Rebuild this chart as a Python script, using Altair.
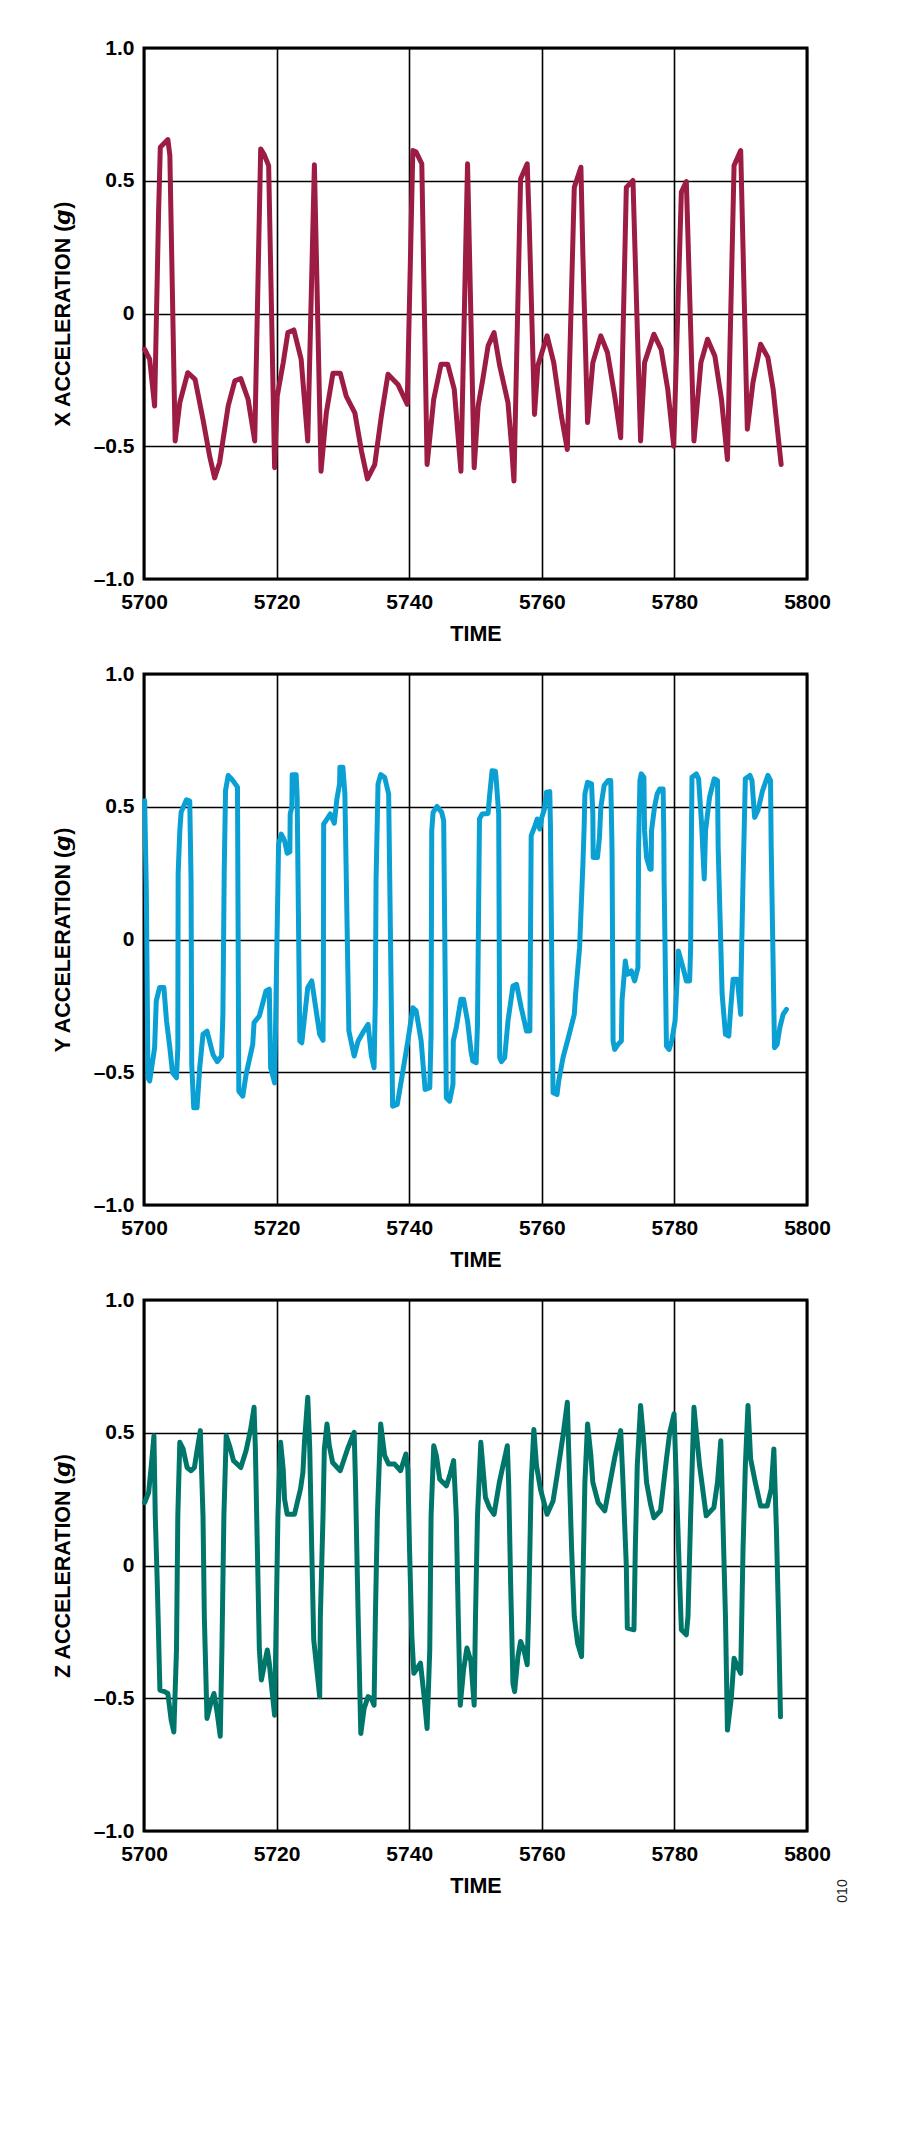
import altair as alt
import pandas as pd

# ---------------- data ----------------
x_time = [5700.1, 5700.85, 5701.6, 5702.2, 5702.46, 5703.6, 5703.9, 5704.7, 5705.4, 5706.6,
          5707.7, 5708.9, 5709.9, 5710.65, 5711.4, 5712.7, 5713.7, 5714.6, 5715.7, 5716.7,
          5717.6, 5718.1, 5718.8, 5719.7, 5720.1, 5721.0, 5721.7, 5722.6, 5723.7, 5724.7,
          5725.7, 5726.7, 5727.5, 5728.5, 5729.6, 5730.5, 5731.8, 5732.8, 5733.7, 5734.8,
          5735.8, 5736.8, 5738.3, 5739.7, 5740.55, 5741.05, 5741.9, 5742.7, 5743.7, 5744.8,
          5745.8, 5746.8, 5747.8, 5748.8, 5749.8, 5750.4, 5751.1, 5751.9, 5752.8, 5753.65,
          5754.9, 5755.4, 5755.8, 5756.8, 5757.8, 5758.1, 5758.9, 5759.4, 5760.8, 5761.8,
          5762.95, 5763.85, 5764.9, 5765.9, 5766.2, 5766.9, 5767.7, 5768.9, 5769.9, 5771.0,
          5771.9, 5772.75, 5773.75, 5774.9, 5775.5, 5776.9, 5778.0, 5779.0, 5779.9, 5781.05,
          5781.8, 5782.95, 5784.0, 5785.0, 5786.1, 5787.1, 5788.0, 5789.0, 5790.0, 5791.0,
          5791.85, 5793.0, 5794.1, 5794.9, 5796.1]
x_acc = [-0.135, -0.172, -0.348, 0.381, 0.626, 0.655, 0.595, -0.48, -0.336, -0.223,
         -0.248, -0.399, -0.537, -0.619, -0.562, -0.348, -0.254, -0.245, -0.323, -0.48,
         0.62, 0.60, 0.557, -0.581, -0.311, -0.185, -0.072, -0.062, -0.172, -0.48,
         0.56, -0.594, -0.374, -0.225, -0.225, -0.311, -0.374, -0.518, -0.623, -0.569,
         -0.386, -0.229, -0.267, -0.342, 0.614, 0.608, 0.564, -0.569, -0.323, -0.191,
         -0.191, -0.286, -0.594, 0.564, -0.581, -0.348, -0.248, -0.122, -0.072, -0.197,
         -0.336, -0.487, -0.631, 0.507, 0.564, 0.343, -0.38, -0.197, -0.084, -0.185,
         -0.386, -0.512, 0.475, 0.551, 0.217, -0.411, -0.185, -0.084, -0.147, -0.311,
         -0.468, 0.475, 0.501, -0.48, -0.185, -0.078, -0.135, -0.286, -0.50, 0.457,
         0.497, -0.48, -0.185, -0.097, -0.16, -0.323, -0.55, 0.557, 0.614, -0.436,
         -0.26, -0.116, -0.166, -0.286, -0.569]

y_time = [5700.1, 5700.35, 5700.6, 5700.85, 5701.6, 5701.85, 5702.35, 5703.0, 5703.4, 5703.9,
          5704.3, 5704.9, 5705.1, 5705.15, 5705.4, 5705.6, 5706.4, 5706.9, 5707.1, 5707.2,
          5707.5, 5708.0, 5708.4, 5708.9, 5709.5, 5710.4, 5711.05, 5711.7, 5711.9, 5712.1,
          5712.3, 5712.7, 5713.4, 5714.1, 5714.3, 5714.9, 5715.4, 5716.4, 5716.6, 5717.4,
          5718.4, 5718.9, 5719.1, 5719.7, 5720.3, 5720.7, 5721.2, 5721.6, 5722.0, 5722.05,
          5722.3, 5722.35, 5722.95, 5723.1, 5723.5, 5723.8, 5724.7, 5725.3, 5725.9, 5726.5,
          5727.0, 5727.05, 5727.1, 5727.5, 5728.1, 5728.7, 5729.1, 5729.5, 5729.55, 5730.0,
          5730.3, 5730.9, 5731.7, 5732.3, 5733.0, 5733.8, 5734.3, 5734.7, 5734.9, 5735.0,
          5735.3, 5735.7, 5736.3, 5736.9, 5737.5, 5738.2, 5738.8, 5739.8, 5740.55, 5741.05,
          5741.8, 5742.4, 5743.1, 5743.3, 5743.4, 5743.6, 5744.2, 5744.9, 5745.2, 5745.6,
          5746.1, 5746.6, 5746.65, 5747.1, 5747.8, 5748.2, 5748.8, 5749.35, 5749.6, 5750.1,
          5750.3, 5750.6, 5751.0, 5751.9, 5752.1, 5752.5, 5753.0, 5753.1, 5753.5, 5753.65,
          5753.9, 5754.4, 5754.9, 5755.65, 5756.2, 5756.9, 5757.7, 5758.2, 5758.25, 5758.4,
          5758.9, 5759.3, 5759.7, 5760.0, 5760.4, 5760.7, 5761.2, 5761.3, 5761.7, 5762.3,
          5762.55, 5763.2, 5764.0, 5764.9, 5765.1, 5765.7, 5766.2, 5766.4, 5766.5, 5766.9,
          5767.5, 5767.7, 5767.75, 5768.4, 5768.7, 5768.9, 5769.4, 5770.0, 5770.4, 5770.55,
          5770.6, 5770.75, 5771.0, 5771.5, 5772.0, 5772.1, 5772.6, 5772.9, 5773.5, 5774.0,
          5774.5, 5774.6, 5774.8, 5775.0, 5775.4, 5775.5, 5775.8, 5776.3, 5776.5, 5776.55,
          5777.0, 5777.4, 5777.8, 5778.3, 5778.4, 5778.45, 5778.8, 5779.2, 5779.6, 5780.1,
          5780.4, 5780.6, 5781.3, 5781.8, 5782.3, 5782.45, 5782.55, 5782.65, 5783.3, 5783.65,
          5784.1, 5784.5, 5784.7, 5785.3, 5786.0, 5786.5, 5786.6, 5787.2, 5787.7, 5788.2,
          5788.5, 5788.85, 5789.5, 5790.0, 5790.05, 5790.35, 5790.7, 5791.4, 5791.7, 5792.1,
          5792.6, 5793.3, 5794.1, 5794.5, 5794.6, 5795.1, 5795.5, 5795.9, 5796.4, 5796.9]
y_acc = [0.523, 0.184, -0.521, -0.533, -0.408, -0.231, -0.181, -0.181, -0.307, -0.408,
         -0.502, -0.521, -0.408, 0.247, 0.41, 0.479, 0.526, 0.521, 0.221, -0.47,
         -0.634, -0.634, -0.483, -0.357, -0.345, -0.433, -0.46, -0.439, -0.282, 0.259,
         0.561, 0.618, 0.599, 0.574, -0.571, -0.59, -0.508, -0.395, -0.313, -0.288,
         -0.194, -0.187, -0.483, -0.54, 0.36, 0.397, 0.372, 0.325, 0.33, 0.473,
         0.498, 0.621, 0.621, 0.536, -0.382, -0.389, -0.181, -0.156, -0.257, -0.357,
         -0.38, -0.231, 0.435, 0.45, 0.473, 0.438, 0.53, 0.586, 0.649, 0.649,
         0.548, -0.345, -0.439, -0.382, -0.351, -0.32, -0.439, -0.483, -0.219, 0.221,
         0.586, 0.621, 0.611, 0.548, -0.628, -0.621, -0.533, -0.382, -0.257, -0.269,
         -0.382, -0.565, -0.558, -0.357, 0.41, 0.479, 0.501, 0.479, 0.448, -0.596,
         -0.609, -0.546, -0.382, -0.332, -0.225, -0.225, -0.307, -0.426, -0.458, -0.464,
         -0.32, 0.454, 0.473, 0.475, 0.536, 0.636, 0.634, 0.611, 0.473, -0.445,
         -0.46, -0.445, -0.307, -0.175, -0.169, -0.257, -0.345, -0.345, -0.15, 0.391,
         0.423, 0.454, 0.416, 0.46, 0.491, 0.555, 0.557, 0.435, -0.577, -0.584,
         -0.533, -0.445, -0.37, -0.282, -0.206, -0.03, 0.284, 0.435, 0.548, 0.592,
         0.586, 0.473, 0.309, 0.309, 0.385, 0.498, 0.58, 0.599, 0.599, 0.40,
         0.322, -0.382, -0.414, -0.395, -0.382, -0.231, -0.081, -0.131, -0.118, -0.156,
         -0.106, 0.347, 0.599, 0.624, 0.611, 0.41, 0.309, 0.265, 0.265, 0.41,
         0.498, 0.548, 0.567, 0.567, 0.397, 0.22, -0.401, -0.414, -0.382, -0.307,
         -0.156, -0.043, -0.106, -0.156, -0.156, -0.03, 0.347, 0.611, 0.624, 0.605,
         0.435, 0.228, 0.41, 0.536, 0.605, 0.599, 0.347, -0.206, -0.357, -0.364,
         -0.257, -0.15, -0.15, -0.282, -0.15, 0.221, 0.605, 0.618, 0.599, 0.46,
         0.486, 0.561, 0.618, 0.599, 0.347, -0.408, -0.395, -0.332, -0.282, -0.263]

z_time = [5700.1, 5700.7, 5701.1, 5701.5, 5701.7, 5702.0, 5702.4, 5703.1, 5703.6, 5704.1,
          5704.5, 5704.9, 5705.1, 5705.4, 5705.9, 5706.5, 5707.1, 5707.6, 5708.0, 5708.5,
          5708.9, 5709.1, 5709.5, 5710.05, 5710.55, 5711.05, 5711.5, 5711.75, 5712.05, 5712.4,
          5712.9, 5713.5, 5714.6, 5715.4, 5716.1, 5716.6, 5716.8, 5717.1, 5717.4, 5717.7,
          5718.1, 5718.6, 5718.9, 5719.2, 5719.7, 5720.2, 5720.6, 5721.0, 5721.2, 5721.6,
          5722.7, 5723.6, 5723.97, 5724.2, 5724.7, 5725.0, 5725.3, 5725.6, 5726.5, 5726.6,
          5727.0, 5727.2, 5727.6, 5727.95, 5728.45, 5729.6, 5730.7, 5731.7, 5731.9, 5732.3,
          5732.7, 5733.2, 5733.8, 5734.3, 5734.7, 5734.9, 5735.2, 5735.7, 5736.3, 5736.9,
          5737.8, 5738.7, 5739.5, 5739.8, 5740.05, 5740.4, 5740.7, 5741.7, 5742.2, 5742.7,
          5743.1, 5743.3, 5743.7, 5744.1, 5744.6, 5745.6, 5746.1, 5746.7, 5747.1, 5747.4,
          5747.7, 5748.2, 5748.7, 5749.3, 5749.8, 5750.0, 5750.3, 5750.8, 5751.1, 5751.5,
          5752.1, 5752.8, 5753.6, 5754.8, 5755.0, 5755.3, 5755.65, 5755.9, 5756.4, 5756.8,
          5757.3, 5757.8, 5758.0, 5758.4, 5758.8, 5759.2, 5759.8, 5760.8, 5761.7, 5762.3,
          5763.2, 5763.85, 5764.05, 5764.5, 5764.9, 5765.4, 5766.0, 5766.2, 5766.5, 5766.9,
          5767.4, 5767.7, 5768.5, 5769.5, 5770.2, 5771.0, 5771.9, 5772.25, 5772.75, 5772.9,
          5773.9, 5774.1, 5774.4, 5774.9, 5775.3, 5775.8, 5776.4, 5776.9, 5777.9, 5778.8,
          5779.3, 5779.95, 5780.3, 5780.8, 5781.05, 5781.8, 5782.05, 5782.45, 5782.95, 5783.3,
          5783.8, 5784.8, 5785.95, 5786.5, 5787.0, 5787.3, 5787.7, 5788.0, 5788.6, 5789.0,
          5789.5, 5790.0, 5790.35, 5790.7, 5791.1, 5791.5, 5792.2, 5793.0, 5794.0, 5794.6,
          5795.0, 5795.4, 5795.7, 5796.0]
z_acc = [0.237, 0.275, 0.376, 0.489, 0.187, -0.066, -0.469, -0.475, -0.482, -0.583,
         -0.627, -0.318, 0.187, 0.464, 0.439, 0.369, 0.357, 0.369, 0.433, 0.508,
         0.187, -0.192, -0.576, -0.52, -0.482, -0.557, -0.643, -0.318, 0.187, 0.489,
         0.451, 0.395, 0.369, 0.433, 0.515, 0.596, 0.439, 0.06, -0.318, -0.431,
         -0.381, -0.318, -0.368, -0.444, -0.564, 0.187, 0.464, 0.363, 0.25, 0.193,
         0.193, 0.288, 0.351, 0.464, 0.634, 0.439, 0.06, -0.28, -0.494, -0.192,
         0.187, 0.439, 0.533, 0.451, 0.388, 0.357, 0.439, 0.502, 0.313, -0.192,
         -0.633, -0.538, -0.494, -0.501, -0.526, -0.192, 0.187, 0.533, 0.414, 0.382,
         0.382, 0.357, 0.42, 0.363, 0.06, -0.267, -0.406, -0.368, -0.482, -0.614,
         -0.318, 0.187, 0.451, 0.414, 0.325, 0.3, 0.338, 0.395, 0.187, -0.192,
         -0.526, -0.393, -0.311, -0.36, -0.526, -0.192, 0.187, 0.464, 0.376, 0.256,
         0.218, 0.193, 0.313, 0.451, 0.313, -0.066, -0.444, -0.475, -0.343, -0.286,
         -0.318, -0.374, -0.192, 0.313, 0.512, 0.376, 0.288, 0.193, 0.243, 0.338,
         0.489, 0.615, 0.439, 0.06, -0.192, -0.293, -0.343, -0.066, 0.313, 0.533,
         0.414, 0.313, 0.237, 0.206, 0.3, 0.407, 0.508, 0.313, -0.003, -0.236,
         -0.242, 0.06, 0.376, 0.603, 0.489, 0.313, 0.231, 0.18, 0.206, 0.401,
         0.502, 0.571, 0.313, -0.066, -0.242, -0.261, -0.192, 0.187, 0.596, 0.502,
         0.376, 0.187, 0.218, 0.313, 0.47, 0.187, -0.192, -0.62, -0.494, -0.349,
         -0.381, -0.406, 0.06, 0.376, 0.603, 0.401, 0.313, 0.224, 0.224, 0.288,
         0.439, 0.124, -0.192, -0.57]

x_ticks = [5700, 5720, 5740, 5760, 5780, 5800]
y_ticks = [-1.0, -0.5, 0.0, 0.5, 1.0]
y_tick_labels = ["\u20131.0", "\u20130.5", "0", "0.5", "1.0"]
titles = ["X ACCELERATION (\U0001D65C)", "Y ACCELERATION (\U0001D65C)", "Z ACCELERATION (\U0001D65C)"]
x_title = "TIME"
colors = ["#9C1C43", "#0AA0D3", "#00766B"]
note = ["010"]

# ---------------- chart ----------------
FONT = "Liberation Sans"
label_expr = " : ".join(
    f"abs(datum.value - ({v})) < 1e-6 ? '{lab}'" for v, lab in zip(y_ticks, y_tick_labels)
) + " : ''"


def panel(times, vals, color, ytitle):
    df = pd.DataFrame({"time": times, "acc": vals, "i": list(range(len(times)))})
    return alt.Chart(df).mark_line(
        color=color, strokeWidth=5, strokeJoin="round", strokeCap="round"
    ).encode(
        x=alt.X("time:Q",
                scale=alt.Scale(domain=[5700, 5800], nice=False, zero=False),
                axis=alt.Axis(values=x_ticks, title=x_title, format="d",
                              labelPadding=12, titlePadding=11, labelFlush=False)),
        y=alt.Y("acc:Q",
                scale=alt.Scale(domain=[-1, 1], nice=False),
                axis=alt.Axis(values=y_ticks, labelExpr=label_expr, title=ytitle,
                              labelPadding=10, titlePadding=19, labelFlush=False)),
        order="i:Q",
    ).properties(width=663, height=531)


p1 = panel(x_time, x_acc, colors[0], titles[0])
p2 = panel(y_time, y_acc, colors[1], titles[1])
p3_line = panel(z_time, z_acc, colors[2], titles[2])
p3_note = alt.Chart(pd.DataFrame({"t": note})).mark_text(
    angle=270, fontSize=14, font=FONT, color="#222222", align="center", baseline="middle"
).encode(text="t:N", x=alt.value(699), y=alt.value(591))
p3 = alt.layer(p3_line, p3_note)

chart = alt.vconcat(p1, p2, p3, spacing=15).properties(
    padding={"left": 42, "top": 27, "right": 5, "bottom": 5},
    background="white",
).configure_view(
    stroke="black", strokeWidth=3
).configure_axis(
    grid=True, gridColor="black", gridWidth=1.6, gridOpacity=1,
    domain=False, ticks=False,
    labelFont=FONT, labelFontSize=21, labelFontWeight="bold", labelColor="black",
    titleFont=FONT, titleFontSize=21.5, titleFontWeight="bold", titleColor="black",
)

chart.save("out.html", embed_options={"renderer": "svg", "actions": False})
